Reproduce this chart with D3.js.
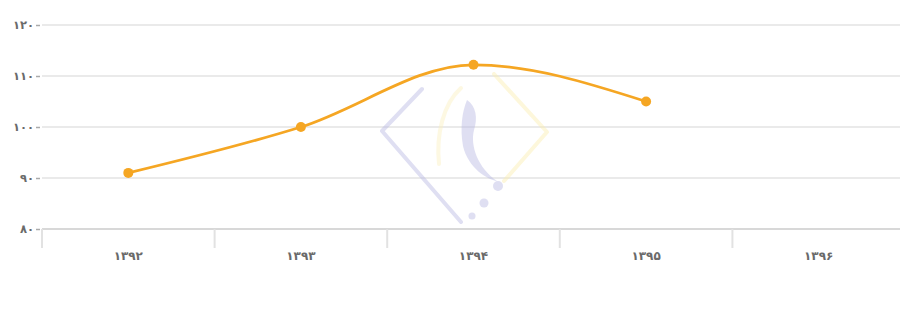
<!DOCTYPE html>
<html>
<head>
<meta charset="utf-8">
<script src="https://cdn.jsdelivr.net/npm/d3@7/dist/d3.min.js"></script>
<style>
  html, body { margin: 0; padding: 0; background: #fff; }
  svg { display: block; }
  text { font-family: "DejaVu Sans", sans-serif; }
</style>
</head>
<body>
<svg id="chart" width="900" height="326"></svg>
<script>
// Years (Solar Hijri) and index values
const years = ["۱۳۹۲", "۱۳۹۳", "۱۳۹۴", "۱۳۹۵", "۱۳۹۶"];
const values = [91, 100, 112.2, 105, null];
const yTicks = [80, 90, 100, 110, 120];
const yTickLabels = ["۸۰", "۹۰", "۱۰۰", "۱۱۰", "۱۲۰"];

const svg = d3.select("#chart");
const W = 900;

const x = d3.scaleBand().domain(years).range([42, 905]).paddingInner(0).paddingOuter(0);
const y = d3.scaleLinear().domain([80, 120]).range([229, 25]);

// horizontal gridlines
svg.append("g")
  .selectAll("line")
  .data(yTicks)
  .join("line")
  .attr("x1", 42).attr("x2", W)
  .attr("y1", d => y(d)).attr("y2", d => y(d))
  .attr("stroke", d => d === 80 ? "#d8d8d8" : "#eaeaea")
  .attr("stroke-width", 2);

// y-axis labels
const yAxis = d3.axisLeft(y)
  .tickValues(yTicks)
  .tickFormat((d, i) => yTickLabels[i])
  .tickSize(4)
  .tickPadding(2);
const gy = svg.append("g").attr("transform", "translate(40,0)").call(yAxis);
gy.select(".domain").remove();
gy.selectAll(".tick line").attr("stroke", "#aaa").attr("stroke-width", 1.5);
gy.selectAll("text").attr("fill", "#6a6a6a").attr("font-size", 11.5).attr("font-weight", "bold");

// x-axis with category boundary ticks
const boundaries = years.map(d => x(d));
svg.append("g")
  .selectAll("line")
  .data(boundaries)
  .join("line")
  .attr("x1", d => d).attr("x2", d => d)
  .attr("y1", 229).attr("y2", 248)
  .attr("stroke", "#e2e2e2").attr("stroke-width", 2);

svg.append("g")
  .selectAll("text")
  .data(years)
  .join("text")
  .attr("x", d => x(d) + x.bandwidth() / 2)
  .attr("y", 260)
  .attr("text-anchor", "middle")
  .attr("fill", "#6a6a6a")
  .attr("font-size", 12)
  .attr("font-weight", "bold")
  .text(d => d);

// faint logo mark in the plot centre
const logo = svg.append("g").attr("opacity", 0.45);
logo.append("path")
  .attr("d", "M422,89 L382,131 L461,222")
  .attr("fill", "none").attr("stroke", "#b9b9e4").attr("stroke-width", 4)
  .attr("stroke-linecap", "round").attr("stroke-linejoin", "round");
logo.append("path")
  .attr("d", "M494,74 L547,132 L504,181")
  .attr("fill", "none").attr("stroke", "#fbeeb0").attr("stroke-width", 4)
  .attr("stroke-linecap", "round").attr("stroke-linejoin", "round");
logo.append("path")
  .attr("d", "M461,88 C443,104 436,135 439,164")
  .attr("fill", "none").attr("stroke", "#fbf0c0").attr("stroke-width", 4)
  .attr("stroke-linecap", "round");
logo.append("path")
  .attr("d", "M467,100 C476,106 478,118 474,130 C470,146 478,168 497,181 C488,180 468,168 463,146 C460,128 462,112 467,100 Z")
  .attr("fill", "#b9b9e4");
logo.selectAll("circle")
  .data([[498, 186, 5], [484, 203, 4.5], [472, 216, 3.5]])
  .join("circle")
  .attr("cx", d => d[0]).attr("cy", d => d[1]).attr("r", d => d[2])
  .attr("fill", "#b9b9e4");

// series line
const pts = years.map((d, i) => ({ k: d, v: values[i] })).filter(d => d.v != null);
const line = d3.line()
  .x(d => x(d.k) + x.bandwidth() / 2)
  .y(d => y(d.v))
  .curve(d3.curveMonotoneX);

svg.append("path")
  .datum(pts)
  .attr("d", line)
  .attr("fill", "none")
  .attr("stroke", "#f5a623")
  .attr("stroke-width", 2.8);

svg.append("g")
  .selectAll("circle")
  .data(pts)
  .join("circle")
  .attr("cx", d => x(d.k) + x.bandwidth() / 2)
  .attr("cy", d => y(d.v))
  .attr("r", 5)
  .attr("fill", "#f5a623");
</script>
</body>
</html>
